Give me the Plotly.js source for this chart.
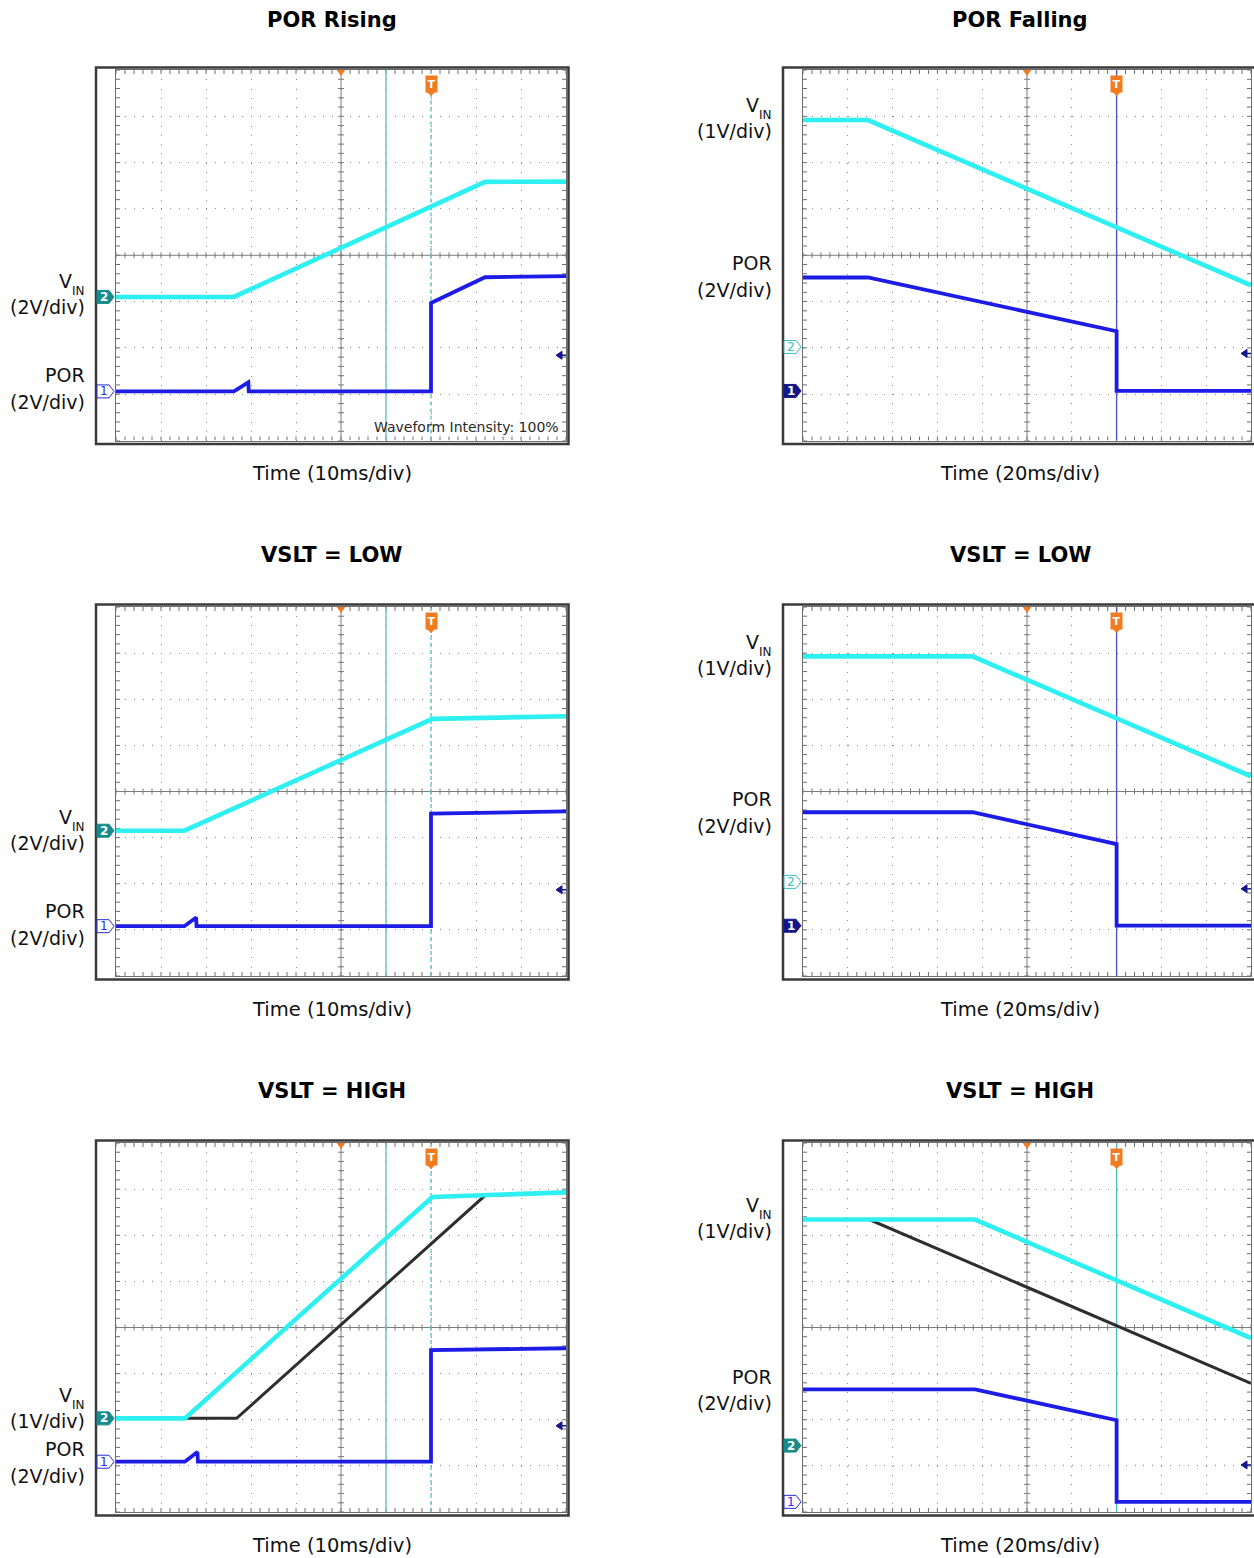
<!DOCTYPE html>
<html><head><meta charset="utf-8">
<script src="https://cdn.plot.ly/plotly-3.0.1.min.js"></script>
<style>html,body{margin:0;padding:0;background:#fff}</style>
</head><body><div id="chart" style="width:1254px;height:1558px"></div>
<script>
// ---------------- DATA (time in ms relative to trigger, voltages in V) ----------------
const panelTitles = ['POR Rising', 'POR Falling', 'VSLT = LOW', 'VSLT = LOW', 'VSLT = HIGH', 'VSLT = HIGH'];
const msPerDiv = [10, 20, 10, 20, 10, 20];
const vinVoltsPerDiv = [2, 1, 2, 1, 1, 1];
const porVoltsPerDiv = [2, 2, 2, 2, 2, 2];
const vinGroundDiv = [3.10, 2.02, 3.15, 2.04, 2.03, 1.44];
const porGroundDiv = [1.06, 1.07, 1.08, 1.09, 1.09, 0.22];
const arrowLevelDiv = [1.84, 1.88, 1.87, 1.89, 1.87, 1.02];
const cursorSolidTime = [-10, 0, -10, 0, -10, 0];
const cursorDashedTime = [0, null, 0, null, 0, null];

// Panel 1 : POR Rising
const p1VinTime = [-70, -43.8, 12, 30];
const p1Vin = [0, 0, 4.97, 4.98];
const p1PorTime = [-70, -43.8, -40.6, -40.5, 0, 0, 12, 30];
const p1Por = [0, 0, 0.39, 0, 0, 3.82, 4.93, 4.98];
// Panel 2 : POR Falling
const p2VinTime = [-140, -111, 60];
const p2Vin = [4.9, 4.9, 1.33];
const p2PorTime = [-140, -111, 0, 0, 60];
const p2Por = [4.9, 4.9, 2.58, 0, 0];
// Panel 3 : VSLT = LOW rising
const p3VinTime = [-70, -54.8, 0.3, 30];
const p3Vin = [0, 0, 4.85, 4.96];
const p3PorTime = [-70, -54.8, -52.2, -52.1, 0, 0, 30];
const p3Por = [0, 0, 0.38, 0, 0, 4.88, 4.98];
// Panel 4 : VSLT = LOW falling
const p4VinTime = [-140, -64.3, 60];
const p4Vin = [4.89, 4.89, 2.29];
const p4PorTime = [-140, -64.3, 0, 0, 60];
const p4Por = [4.92, 4.92, 3.54, 0, 0];
// Panel 5 : VSLT = HIGH rising (black = reference VIN)
const p5VinTime = [-70, -54.7, 0.3, 30];
const p5Vin = [0, 0, 4.8, 4.9];
const p5RefTime = [-70, -43.2, 12, 30];
const p5Ref = [0, 0, 4.83, 4.9];
const p5PorTime = [-70, -54.7, -51.9, -51.8, 0, 0, 30];
const p5Por = [0, 0, 0.42, 0, 0, 4.84, 4.92];
// Panel 6 : VSLT = HIGH falling (black = reference VIN)
const p6VinTime = [-140, -63.2, 60];
const p6Vin = [4.9, 4.9, 2.33];
const p6RefTime = [-140, -110.4, 60];
const p6Ref = [4.9, 4.9, 1.35];
const p6PorTime = [-140, -63.2, 0, 0, 60];
const p6Por = [4.88, 4.88, 3.54, 0, 0];

const series = [
  {vinT: p1VinTime, vin: p1Vin, porT: p1PorTime, por: p1Por},
  {vinT: p2VinTime, vin: p2Vin, porT: p2PorTime, por: p2Por},
  {vinT: p3VinTime, vin: p3Vin, porT: p3PorTime, por: p3Por},
  {vinT: p4VinTime, vin: p4Vin, porT: p4PorTime, por: p4Por},
  {vinT: p5VinTime, vin: p5Vin, porT: p5PorTime, por: p5Por, refT: p5RefTime, ref: p5Ref},
  {vinT: p6VinTime, vin: p6Vin, porT: p6PorTime, por: p6Por, refT: p6RefTime, ref: p6Ref}
];

// ---------------- LAYOUT GEOMETRY ----------------
const W = 1254, H = 1558;
const colX = [[116, 566], [803, 1251]];
const rowY = [[70, 440.5], [607, 976], [1143, 1512]];
const frameX = [[96, 568.5], [783, 1262]];
const titleCx = [332, 1020];
const titleY = [20, 555, 1091];
const timeY = [473, 1009, 1545];
const labelRight = [87, 774];
const vinLabelY = [281, 105, 817, 642, 1395, 1205];
const vinScaleY = [307, 131, 843, 668, 1421, 1231];
const porLabelY = [375, 263, 911, 799, 1449, 1377];
const porScaleY = [402, 290, 938, 826, 1476, 1403];
const markerStyle = [['fill','outline'],['outline','fill'],['fill','outline'],['outline','fill'],['fill','outline'],['fill','outline']]; // [ch2, ch1]
const cursorColor = ['#5ec4c8', '#5454c4', '#5ec4c8', '#5454c4', '#5ec4c8', '#4fbcbc'];

const C_VIN = '#2ff0f0', C_POR = '#1c1ce6', C_REF = '#2e2e2e';
const C_TEAL = '#178c8c', C_NAVY = '#16168c', C_ORANGE = '#f27b21';
const C_GRID = '#8a8a8a', C_EDGE = '#6e6e6e';
const FONT = 'DejaVu Sans, Liberation Sans, Arial, sans-serif';

const px = x => x / W;
const py = y => 1 - y / H;
const id = (p, i) => p + (i === 1 ? '' : i);
const key = (p, i) => p + 'axis' + (i === 1 ? '' : i);

const layout = {
  width: W, height: H, margin: {l: 0, r: 0, t: 0, b: 0},
  paper_bgcolor: '#fff', plot_bgcolor: '#fff', showlegend: false,
  shapes: [], annotations: []
};
const traces = [];

for (let k = 0; k < 6; k++) {
  const c = k % 2, r = Math.floor(k / 2), n = k + 1;
  const ms = msPerDiv[k];
  const x0 = -7 * ms, x1 = 3 * ms, xc = -2 * ms;
  const xPx = (colX[c][1] - colX[c][0]) / 10;
  const yPx = (rowY[r][1] - rowY[r][0]) / 8;
  const ux = ms / xPx, uy = 1 / yPx;
  const xa = id('x', n), ya = id('y', n);
  const vinAx = 6 + n, porAx = 12 + n;

  layout[key('x', n)] = {
    domain: [px(colX[c][0]), px(colX[c][1])], range: [x0, x1], tick0: 0, dtick: ms,
    showgrid: true, gridcolor: C_GRID, gridwidth: 1, griddash: '1px,' + (yPx / 5 - 1).toFixed(2) + 'px',
    zeroline: false, showticklabels: false, ticks: '', showline: true, linecolor: C_EDGE, linewidth: 1,
    mirror: true, anchor: ya, fixedrange: true
  };
  layout[key('y', n)] = {
    domain: [py(rowY[r][1]), py(rowY[r][0])], range: [0, 8], tick0: 0, dtick: 1,
    showgrid: true, gridcolor: C_GRID, gridwidth: 1, griddash: '1px,' + (xPx / 5 - 1).toFixed(2) + 'px',
    zeroline: false, showticklabels: false, ticks: '', showline: true, linecolor: C_EDGE, linewidth: 1,
    mirror: true, anchor: xa, fixedrange: true
  };
  const gv = vinGroundDiv[k], sv = vinVoltsPerDiv[k];
  const gp = porGroundDiv[k], sp = porVoltsPerDiv[k];
  layout[key('y', vinAx)] = {overlaying: ya, anchor: xa, range: [-gv * sv, (8 - gv) * sv], visible: false, fixedrange: true};
  layout[key('y', porAx)] = {overlaying: ya, anchor: xa, range: [-gp * sp, (8 - gp) * sp], visible: false, fixedrange: true};

  // traces
  const s = series[k];
  if (s.refT) traces.push({x: s.refT, y: s.ref, xaxis: xa, yaxis: id('y', vinAx), type: 'scatter', mode: 'lines', line: {color: C_REF, width: 3}, hoverinfo: 'skip'});
  traces.push({x: s.vinT, y: s.vin, xaxis: xa, yaxis: id('y', vinAx), type: 'scatter', mode: 'lines', line: {color: C_VIN, width: 4.6}, hoverinfo: 'skip'});
  traces.push({x: s.porT, y: s.por, xaxis: xa, yaxis: id('y', porAx), type: 'scatter', mode: 'lines', line: {color: C_POR, width: 3.8}, hoverinfo: 'skip'});

  // outer frame
  layout.shapes.push({type: 'rect', xref: 'paper', yref: 'paper', x0: px(frameX[c][0]), x1: px(frameX[c][1]), y0: py(rowY[r][1] + 3.5), y1: py(rowY[r][0] - 2.5), line: {color: '#3a3a3a', width: 2.5}, layer: 'above'});

  // edge ticks
  let pe = '';
  for (let i = 0; i <= 50; i++) {
    const x = x0 + i * ms / 5;
    pe += `M${x},8L${x},${8 - 4 * uy}M${x},0L${x},${4 * uy}`;
  }
  for (let j = 0; j <= 40; j++) {
    const y = j / 5;
    pe += `M${x0},${y}L${x0 + 4 * ux},${y}M${x1},${y}L${x1 - 4 * ux},${y}`;
  }
  layout.shapes.push({type: 'path', xref: xa, yref: ya, path: pe, line: {color: C_EDGE, width: 1}, layer: 'between'});
  // centre crosshair with ticks
  let pc = `M${x0},4L${x1},4M${xc},0L${xc},8`;
  for (let i = 0; i <= 50; i++) {
    const x = x0 + i * ms / 5;
    pc += `M${x},${4 - 3 * uy}L${x},${4 + 3 * uy}`;
  }
  for (let j = 0; j <= 40; j++) {
    const y = j / 5;
    pc += `M${xc - 3 * ux},${y}L${xc + 3 * ux},${y}`;
  }
  layout.shapes.push({type: 'path', xref: xa, yref: ya, path: pc, line: {color: '#7c7c7c', width: 1}, layer: 'between'});

  // cursors
  layout.shapes.push({type: 'line', xref: xa, yref: ya, x0: cursorSolidTime[k], x1: cursorSolidTime[k], y0: 0, y1: 8, line: {color: cursorColor[k], width: 1.4}, layer: 'between'});
  if (cursorDashedTime[k] !== null) {
    layout.shapes.push({type: 'line', xref: xa, yref: ya, x0: cursorDashedTime[k], x1: cursorDashedTime[k], y0: 0, y1: 8 - 20 * uy, line: {color: cursorColor[k], width: 1.4, dash: '4px,3px'}, layer: 'between'});
  }
  // trigger position triangle at top centre
  layout.shapes.push({type: 'path', xref: xa, yref: ya, xsizemode: 'pixel', ysizemode: 'pixel', xanchor: xc, yanchor: 8, path: 'M-5,1L5,1L0,-6Z', fillcolor: C_ORANGE, line: {width: 0}, layer: 'above'});
  // trigger T badge
  layout.annotations.push({xref: xa, x: 0, yref: 'paper', y: py(rowY[r][0] + 14), text: '<b>T</b>', showarrow: false,
    font: {family: FONT, size: 11, color: '#fff'}, bgcolor: C_ORANGE, borderpad: 1.5, xanchor: 'center', yanchor: 'middle'});
  layout.shapes.push({type: 'path', xref: xa, yref: 'paper', xsizemode: 'pixel', ysizemode: 'pixel', xanchor: 0, yanchor: py(rowY[r][0] + 22), path: 'M-4,0L4,0L0,-4Z', fillcolor: C_ORANGE, line: {width: 0}, layer: 'above'});

  // trigger level arrow at right edge
  layout.shapes.push({type: 'path', xref: xa, yref: ya, xsizemode: 'pixel', ysizemode: 'pixel', xanchor: x1, yanchor: arrowLevelDiv[k], path: 'M-10,0L-4,4L-4,-4Z', fillcolor: C_NAVY, line: {color: C_NAVY, width: 1}, layer: 'above'});
  layout.shapes.push({type: 'path', xref: xa, yref: ya, xsizemode: 'pixel', ysizemode: 'pixel', xanchor: x1, yanchor: arrowLevelDiv[k], path: 'M-5,0L0,0', line: {color: C_NAVY, width: 1.5}, layer: 'above'});

  // channel ground markers (at each channel's 0 V level, in the left strip)
  const marks = [
    {g: gv, label: '2', style: markerStyle[k][0], fillCol: C_TEAL, outCol: '#3cbcc4'},
    {g: gp, label: '1', style: markerStyle[k][1], fillCol: C_NAVY, outCol: '#2a2ae0'}
  ];
  for (const m of marks) {
    const filled = m.style === 'fill';
    const yp = py(rowY[r][1] - m.g * yPx);
    layout.shapes.push({type: 'path', xref: 'paper', yref: 'paper', xsizemode: 'pixel', ysizemode: 'pixel', xanchor: px(colX[c][0]), yanchor: yp,
      path: 'M-19,6.5L-7,6.5L-2,0L-7,-6.5L-19,-6.5Z', fillcolor: filled ? m.fillCol : '#ffffff', line: {color: filled ? m.fillCol : m.outCol, width: 1}, layer: 'above'});
    layout.annotations.push({xref: 'paper', x: px(colX[c][0] - 12), yref: 'paper', y: yp, text: filled ? '<b>' + m.label + '</b>' : m.label, showarrow: false,
      font: {family: FONT, size: 12, color: filled ? '#ffffff' : m.outCol}, xanchor: 'center', yanchor: 'middle'});
  }

  // text labels
  layout.annotations.push({xref: 'paper', yref: 'paper', x: px(titleCx[c]), y: py(titleY[r]), text: '<b>' + panelTitles[k] + '</b>', showarrow: false,
    font: {family: FONT, size: 21, color: '#000'}, xanchor: 'center', yanchor: 'middle'});
  layout.annotations.push({xref: 'paper', yref: 'paper', x: px(titleCx[c]), y: py(timeY[r]), text: 'Time (' + ms + 'ms/div)', showarrow: false,
    font: {family: FONT, size: 19.5, color: '#111'}, xanchor: 'center', yanchor: 'middle'});
  const lab = (txt, x, y, size) => layout.annotations.push({xref: 'paper', yref: 'paper', x: px(x), y: py(y), text: txt, showarrow: false,
    font: {family: FONT, size: size, color: '#111'}, xanchor: 'right', yanchor: 'middle'});
  lab('V', labelRight[c] - 13, vinLabelY[k], 19);
  lab('IN', labelRight[c], vinLabelY[k] + 10, 12);
  lab('(' + vinVoltsPerDiv[k] + 'V/div)', labelRight[c], vinScaleY[k], 19);
  lab('POR', labelRight[c], porLabelY[k], 19);
  lab('(' + porVoltsPerDiv[k] + 'V/div)', labelRight[c], porScaleY[k], 19);
}

layout.annotations.push({xref: 'paper', yref: 'paper', x: px(561), y: py(427), text: 'Waveform Intensity: 100%', showarrow: false,
  font: {family: 'DejaVu Sans, sans-serif', size: 14, color: '#2a2a2a'}, xanchor: 'right', yanchor: 'middle'});

Plotly.newPlot('chart', traces, layout, {staticPlot: true, displayModeBar: false});
</script>
</body></html>
